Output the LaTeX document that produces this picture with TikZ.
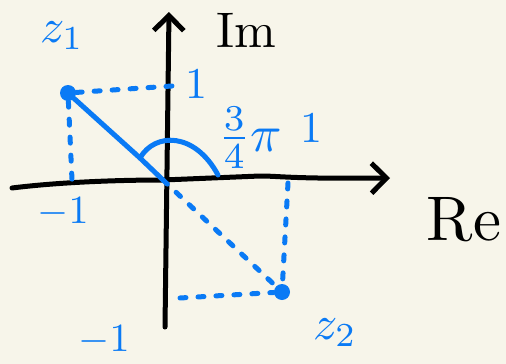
\documentclass[tikz,border=0pt]{standalone}
\usepackage{amsmath}
\usetikzlibrary{arrows.meta}

\definecolor{paper}{HTML}{F7F5EA}
\definecolor{pen}{HTML}{0A7AF5}

\begin{document}
\begin{tikzpicture}[
  x=1pt, y=-1pt,
  axisline/.style={line width=5pt, line cap=round, line join=round},
  axistip/.style={-{Straight Barb[length=15pt, width=30pt, line width=5pt]}},
  penline/.style={draw=pen, line width=5pt, line cap=round, line join=round},
  dotline/.style={penline, dash pattern=on 6pt off 12pt},
  pendot/.style={circle, fill=pen, inner sep=0pt, minimum size=16pt},
  penlabel/.style={text=pen, inner sep=0pt, transform shape, scale=#1},
  inklabel/.style={text=black, inner sep=0pt, transform shape, scale=#1}
]
\fill[paper] (0,0) rectangle (506,364);
\useasboundingbox (0,0) rectangle (506,364);

% Axes
\coordinate (xl) at (12,188);
\coordinate (O) at (163,180);
\coordinate (xr) at (390,178);
\coordinate (yb) at (165,327);
\coordinate (yt) at (169,12);
\draw[axisline, axistip]
  (xl) .. controls (60,182) and (120,180) .. (O) -- (260,176) .. controls (280,176) and (290,179) .. (xr);
\draw[axisline, axistip] (yb) -- (yt);
\node[inklabel=5] (Im) at (246,30) {Im};
\node[inklabel=6.3] (Re) at (464,220) {Re};

% Points
\node[pendot] (z1) at (68,93) {};
\node[pendot] (z2) at (282,292) {};
\node[penlabel=4.8] (z1lab) at (62,36) {$z_1$};
\node[penlabel=4.8] (z2lab) at (335,333) {$z_2$};

% Ticks
\coordinate (y1) at (172,86);
\coordinate (xm1) at (72,180);
\coordinate (x1) at (288,183);
\coordinate (ym1) at (180,298);
\node[penlabel=4.4] (y1lab) at (196,84) {$1$};
\node[penlabel=4.4] (x1lab) at (311,128) {$1$};
\node[penlabel=4] (xm1lab) at (63,212) {$-1$};
\node[penlabel=4] (ym1lab) at (104,340) {$-1$};

% Projections
\draw[dotline] (z1) -- (y1);
\draw[dotline] (z1) -- (xm1);
\draw[dotline] (x1) -- (z2);
\draw[dotline] (ym1) -- (z2);
\draw[dotline] (O) -- (z2);

% Argument of z1
\draw[penline] (z1) -- (140,158) -- (O);
\draw[penline] (140,158) .. controls (155,132) and (195,132) .. (218,175);
\node[penlabel=5.2] (ang) at (250,138) {$\frac{3}{4}\pi$};
\end{tikzpicture}
\end{document}
